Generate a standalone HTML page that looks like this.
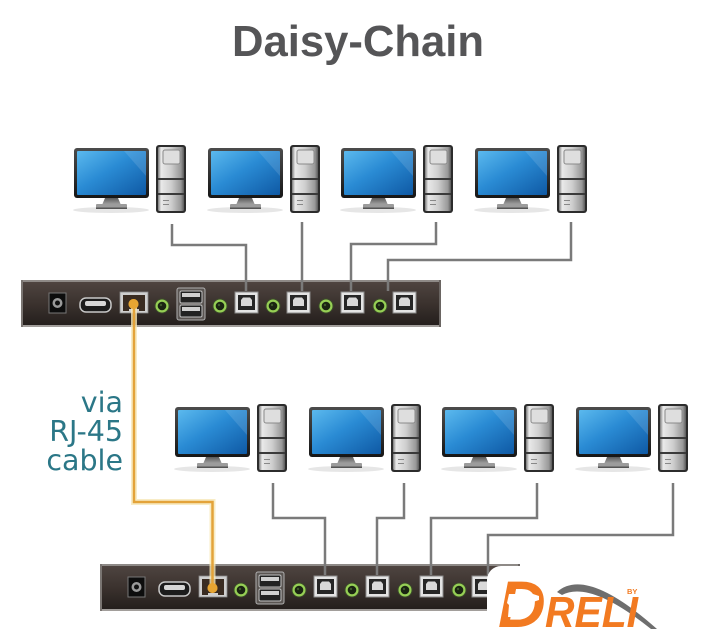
<!DOCTYPE html>
<html><head><meta charset="utf-8"><style>
html,body{margin:0;padding:0;background:#fff;}
svg{display:block;}
</style></head><body>
<svg width="709" height="640" viewBox="0 0 709 640" xmlns="http://www.w3.org/2000/svg">
<defs>
<linearGradient id="scr" x1="0" y1="0" x2="1" y2="1">
<stop offset="0" stop-color="#5bb9ee"/><stop offset="0.45" stop-color="#2a8bd4"/><stop offset="1" stop-color="#0f59a4"/>
</linearGradient>
<linearGradient id="bez" x1="0" y1="0" x2="0" y2="1">
<stop offset="0" stop-color="#4c4c4c"/><stop offset="1" stop-color="#161616"/>
</linearGradient>
<linearGradient id="silv" x1="0" y1="0" x2="1" y2="0">
<stop offset="0" stop-color="#7a7a7a"/><stop offset="0.12" stop-color="#e9e9e9"/><stop offset="0.5" stop-color="#cfcfcf"/><stop offset="0.88" stop-color="#989898"/><stop offset="1" stop-color="#5a5a5a"/>
</linearGradient>
<linearGradient id="neck" x1="0" y1="0" x2="0" y2="1">
<stop offset="0" stop-color="#5a5a5a"/><stop offset="1" stop-color="#a8a8a8"/>
</linearGradient>
<linearGradient id="swb" x1="0" y1="0" x2="0" y2="1">
<stop offset="0" stop-color="#504642"/><stop offset="0.5" stop-color="#3b322e"/><stop offset="1" stop-color="#221d1b"/>
</linearGradient>
<g id="pc">
  <ellipse cx="37" cy="62" rx="38" ry="3" fill="#e6e6e6"/>
  <polygon points="31,50 44,50 47,57 28,57" fill="url(#neck)"/>
  <rect x="22" y="56" width="31" height="5" rx="1" fill="#9c9c9c"/>
  <rect x="22" y="59.5" width="31" height="1.5" fill="#555"/>
  <rect x="0" y="0" width="75" height="50" rx="3" fill="url(#bez)"/>
  <rect x="3" y="3" width="69" height="44" rx="1" fill="url(#scr)"/>
  <polygon points="50,3 72,3 72,28" fill="#ffffff" opacity="0.12"/>
  <rect x="82" y="-3" width="30" height="68" rx="3" fill="#2c2c2c"/>
  <rect x="84" y="-1" width="26" height="64" rx="1.5" fill="url(#silv)"/>
  <rect x="89" y="2" width="17" height="14" rx="2" fill="#dedede" stroke="#8a8a8a" stroke-width="1"/>
  <rect x="84" y="30" width="26" height="2" fill="#3a3a3a"/>
  <rect x="84" y="45" width="26" height="2" fill="#3a3a3a"/>
  <rect x="89" y="52" width="6" height="1" fill="#888"/>
  <rect x="89" y="56" width="6" height="1" fill="#888"/>
</g>
<g id="jack"><circle r="7.5" fill="#3b4a2a"/><circle r="6.5" fill="#96cf55"/><circle r="4.3" fill="#1a2412"/><circle cx="-1" cy="-1" r="1.2" fill="#3e5a2a"/></g>
<g id="usbb">
  <rect x="0" y="0" width="23" height="21" fill="#e4e4e4" stroke="#8a8a8a" stroke-width="1"/>
  <rect x="3" y="3" width="17" height="15" fill="#262626"/>
  <path d="M6,8 l2,-2.5 h7 l2,2.5 v6 h-11z" fill="#d9d9d9"/>
</g>
<g id="sw">
  <rect x="0" y="0" width="420" height="47" fill="url(#swb)"/>
  <rect x="0" y="0" width="420" height="2" fill="#8e8a87"/>
  <rect x="0" y="45" width="420" height="2" fill="#a29e9b"/>
  <rect x="0" y="0" width="2" height="47" fill="#7a7572"/>
  <rect x="418" y="0" width="2" height="47" fill="#6a6562"/>
  <rect x="28" y="13" width="17" height="20" fill="#0d0d0d" stroke="#777" stroke-width="1"/>
  <circle cx="36.5" cy="23" r="5" fill="#9a9a9a"/><circle cx="36.5" cy="23" r="2.5" fill="#111"/>
  <rect x="59" y="18" width="31" height="14" rx="6" fill="#1c1c1c" stroke="#c8c8c8" stroke-width="1.5"/>
  <rect x="64" y="21" width="21" height="5" rx="2" fill="#d6d6d6"/>
  <rect x="99" y="12" width="28" height="21" fill="#cfcfcf" stroke="#888" stroke-width="0.8"/>
  <rect x="102" y="15" width="22" height="14" fill="#3a2c22"/>
  <rect x="102" y="29" width="6" height="2" fill="#3a2c22"/><rect x="118" y="29" width="6" height="2" fill="#3a2c22"/>
  <circle cx="112.5" cy="24" r="5" fill="#e7a532"/>
  <rect x="156" y="8" width="28" height="32" rx="2" fill="#5a5552" stroke="#b0b0b0" stroke-width="1"/>
  <rect x="159" y="11" width="22" height="12" rx="1.5" fill="#222" stroke="#c0c0c0" stroke-width="1"/>
  <rect x="161" y="13" width="18" height="4" fill="#d0d0d0"/>
  <rect x="159" y="25" width="22" height="12" rx="1.5" fill="#222" stroke="#c0c0c0" stroke-width="1"/>
  <rect x="161" y="27" width="18" height="4" fill="#d0d0d0"/>
  <use href="#jack" x="141" y="26"/>
  <use href="#jack" x="199" y="26"/>
  <use href="#jack" x="252" y="26"/>
  <use href="#jack" x="305" y="26"/>
  <use href="#jack" x="359" y="26"/>
  <use href="#usbb" x="214" y="12"/>
  <use href="#usbb" x="266" y="12"/>
  <use href="#usbb" x="320" y="12"/>
  <use href="#usbb" x="372" y="12"/>
</g>
</defs>

<rect width="709" height="640" fill="#fff"/>

<text x="232" y="56" font-family="Liberation Sans, sans-serif" font-weight="bold" font-size="44" fill="#555557" textLength="252" lengthAdjust="spacingAndGlyphs">Daisy-Chain</text>

<use href="#pc" x="74" y="148"/>
<use href="#pc" x="208" y="148"/>
<use href="#pc" x="341" y="148"/>
<use href="#pc" x="475" y="148"/>

<use href="#pc" x="175" y="407"/>
<use href="#pc" x="309" y="407"/>
<use href="#pc" x="442" y="407"/>
<use href="#pc" x="576" y="407"/>

<use href="#sw" x="21" y="280"/>
<use href="#sw" x="100" y="564"/>

<g fill="none" stroke="#7a7a7a" stroke-width="2.5">
  <polyline points="172,224 172,245 246,245 246,291"/>
  <polyline points="302,222 302,291"/>
  <polyline points="436,222 436,244 351,244 351,291"/>
  <polyline points="571,222 571,260 388,260 388,291"/>
  <polyline points="273,483 273,518 325,518 325,575"/>
  <polyline points="404,483 404,518 377,518 377,575"/>
  <polyline points="537,483 537,518 431,518 431,575"/>
  <polyline points="673,483 673,535 488,535 488,575"/>
</g>

<g fill="none" stroke-linejoin="miter">
  <polyline points="134,304 134,502 212.5,502 212.5,588" stroke="#f6e7b8" stroke-width="6" opacity="0.8"/>
  <polyline points="134,304 134,502 212.5,502 212.5,588" stroke="#e3a33a" stroke-width="2.5"/>
</g>
<circle cx="133.5" cy="304" r="5" fill="#e7a532"/>
<circle cx="212.5" cy="588" r="5" fill="#e7a532"/>

<g font-family="DejaVu Sans, sans-serif" font-size="28.5" fill="#2b7787" text-anchor="end">
  <text x="123" y="412">via</text>
  <text x="123" y="441">RJ-45</text>
  <text x="123" y="470">cable</text>
</g>

<!-- logo -->
<rect x="487" y="566" width="240" height="90" rx="14" fill="#ffffff"/>
<path d="M557,592 Q586,566 657,629 L651,629 Q590,580 562,595 Z" fill="#6e6e6e"/>
<text x="498" y="627" font-family="Liberation Sans, sans-serif" font-weight="bold" font-style="italic" font-size="66" fill="#f27a21">D</text>
<text x="545" y="627" font-family="Liberation Sans, sans-serif" font-weight="bold" font-style="italic" font-size="44" fill="#f27a21" textLength="93" lengthAdjust="spacingAndGlyphs">RELI</text>
<path d="M509,594 h24 l6,2 v4 l-6,2 h-12 l-2,4 h-4 l-2,11 h-5 l1,-12 l-2,-2 z" fill="#ffffff"/>
<text x="627" y="594" font-family="Liberation Sans, sans-serif" font-weight="bold" font-size="7.5" fill="#f27a21">BY</text>
</svg>
</body></html>
